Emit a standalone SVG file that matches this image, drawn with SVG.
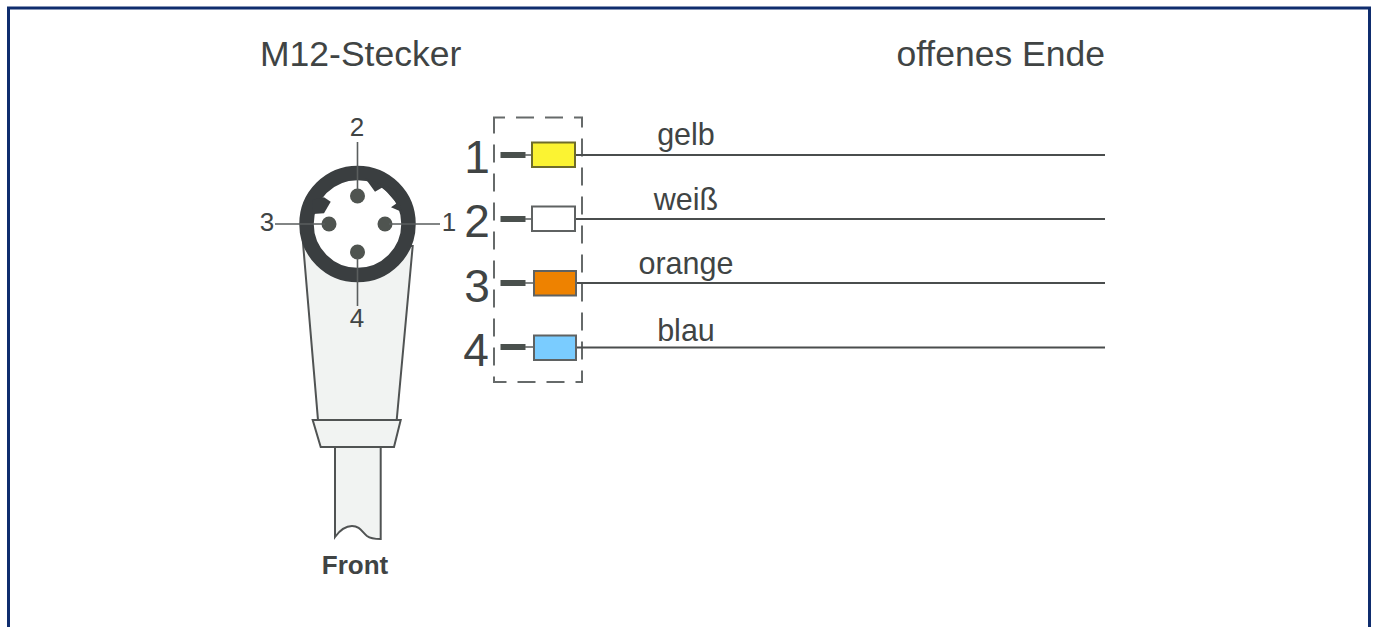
<svg xmlns="http://www.w3.org/2000/svg" width="1375" height="627" viewBox="0 0 1375 627">
<style>
text{font-family:"Liberation Sans",Arial,sans-serif;fill:#404444}
.title{font-size:35.500px}
.num{font-size:46px}
.lbl{font-size:30.500px}
.pn{font-size:26px}
.body{fill:#f1f3f2;stroke:#505353;stroke-width:2}
.thin{stroke:#5a5e5e;stroke-width:1.6;fill:none}
.wire{stroke:#4a4d4d;stroke-width:2;fill:none}
.stub{stroke:#4a504d;stroke-width:6;fill:none}
.box{stroke:#5f6262;stroke-width:2}
.pin{fill:#4f5450}
</style>
<rect x="8.500" y="8" width="1361" height="640" fill="#fff" stroke="#0f2d6e" stroke-width="3"/>
<text class="title" x="260" y="65.500">M12-Stecker</text>
<text class="title" x="1105" y="65.500" text-anchor="end">offenes Ende</text>
<g id="connector">
<path class="body" d="M303 243L318 420H396.700L412.700 246Z"/>
<path class="body" d="M335 447V537C340 530 345 526 352 526C360 526 362 532 367 536C371 539 375 539 380.700 539V447Z"/>
<path class="body" d="M312.700 420H400.700L394 447H320.700Z"/>
<circle cx="357.500" cy="224" r="51" fill="#fff" stroke="#3a3e40" stroke-width="14.500"/>
<path d="M365 178L375 191.700L382.700 187.300L396.700 203.300L391 207.300L402 212L396 190L370 180Z" fill="#3a3e40"/>
<path d="M324 197.300L330.700 201.700L324 213.300L313 214L312 200Z" fill="#3a3e40"/>
<circle class="pin" cx="357.500" cy="196" r="7.500"/>
<circle class="pin" cx="357.500" cy="252" r="7.500"/>
<circle class="pin" cx="329" cy="224" r="7.500"/>
<circle class="pin" cx="385" cy="224" r="7.500"/>
<path class="thin" d="M357.500 142V190M357.500 258V306M275 224H325M389 224H440"/>
<text class="pn" x="357" y="136" text-anchor="middle">2</text>
<text class="pn" x="357" y="327" text-anchor="middle">4</text>
<text class="pn" x="267" y="231" text-anchor="middle">3</text>
<text class="pn" x="449" y="231" text-anchor="middle">1</text>
<text x="355" y="574" text-anchor="middle" font-size="26" font-weight="bold">Front</text>
</g>
<rect x="494" y="117.500" width="88" height="264.500" fill="none" stroke="#666a6a" stroke-width="2" stroke-dasharray="18 11" stroke-dashoffset="7"/>
<g id="connectors">
<path class="wire" d="M575 155H1105M575 219H1105M576 283H1105M576 347.500H1105"/>
<path class="stub" d="M500.500 155H525.500M500.500 219H525.500M500.500 283H525.500M500.500 347H525.500"/>
<path class="thin" d="M525 155H532M525 219H532M525 283H534M525 347H534"/>
</g>
<g id="pin1"><text class="num" x="477" y="173" text-anchor="middle">1</text><rect x="532" y="142.500" width="43" height="24.500" fill="#fbf332" stroke="#6e6c2a" stroke-width="2"/><text class="lbl" x="686" y="144.500" text-anchor="middle">gelb</text></g>
<g id="pin2"><text class="num" x="477" y="237" text-anchor="middle">2</text><rect class="box" x="532" y="206.500" width="43" height="24.500" fill="#fff"/><text class="lbl" x="686" y="209.500" text-anchor="middle">weiß</text></g>
<g id="pin3"><text class="num" x="477" y="302" text-anchor="middle">3</text><rect class="box" x="534" y="271" width="42" height="24.500" fill="#ee8200"/><text class="lbl" x="686" y="273.500" text-anchor="middle">orange</text></g>
<g id="pin4"><text class="num" x="476" y="366" text-anchor="middle">4</text><rect class="box" x="534" y="335.500" width="42" height="24.500" fill="#7accff"/><text class="lbl" x="686" y="340.500" text-anchor="middle">blau</text></g>
</svg>
